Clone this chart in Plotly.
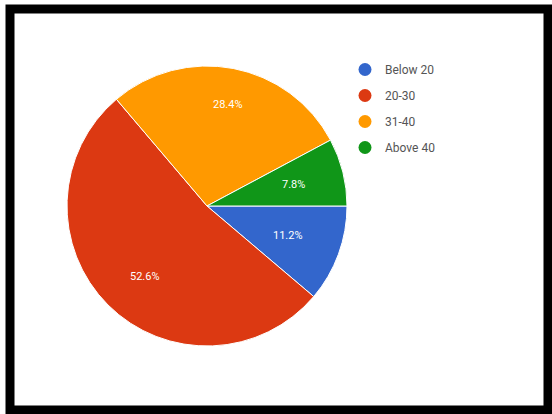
import math
import plotly.graph_objects as go

labels = ["Below 20", "20-30", "31-40", "Above 40"]
values = [11.2, 52.6, 28.4, 7.8]
colors = ["#3366cc", "#dc3912", "#ff9900", "#109618"]
label_radius = [0.62, 0.8, 0.8, 0.64]  # style: radial position of in-slice labels

W, H = 552, 414
fig = go.Figure()

cx, cy, r = 207, 206, 140
fig.add_trace(go.Pie(
    labels=labels, values=values, sort=False, direction="clockwise", rotation=90,
    marker=dict(colors=colors, line=dict(color="white", width=1)),
    textinfo="none",
    showlegend=False, hoverinfo="label+percent",
    domain=dict(x=[(cx - r) / W, (cx + r) / W], y=[1 - (cy + r) / H, 1 - (cy - r) / H]),
))

# in-slice labels placed from the values (clockwise from 3 o'clock)
total = sum(values)
acc = 0.0
annotations = []
for v, f in zip(values, label_radius):
    mid = (acc + v / 2) / total * 2 * math.pi
    acc += v
    px = cx + f * r * math.cos(mid)
    py = cy + f * r * math.sin(mid)
    annotations.append(dict(x=px / W, y=1 - py / H, xref="paper", yref="paper",
                            text=f"{v:.1f}%", showarrow=False,
                            font=dict(color="white", size=11, family="Roboto")))

for i, (lab, col) in enumerate(zip(labels, colors)):
    fig.add_trace(go.Scatter(
        x=[None], y=[None], mode="markers", name=lab, legendgroup=f"g{i}",
        marker=dict(color=col, size=13, symbol="circle"), showlegend=True,
    ))

fig.update_xaxes(visible=False)
fig.update_yaxes(visible=False)

fig.update_layout(
    width=W, height=H,
    margin=dict(l=0, r=0, t=0, b=0),
    paper_bgcolor="white", plot_bgcolor="white",
    legend=dict(x=345 / W, y=1 - 55 / H, xanchor="left", yanchor="top",
                font=dict(size=12, color="#555", family="Roboto"),
                tracegroupgap=7, itemwidth=30, bgcolor="rgba(0,0,0,0)"),
    annotations=annotations,
    shapes=[dict(type="rect", xref="paper", yref="paper",
                 x0=10 / W, x1=548 / W, y0=1 - 410 / H, y1=1 - 9 / H,
                 line=dict(color="black", width=9), fillcolor="rgba(0,0,0,0)")],
)

fig.write_html("out.html", config={"displayModeBar": False},
               post_script="document.body.style.margin='0';document.body.style.overflow='hidden';")
